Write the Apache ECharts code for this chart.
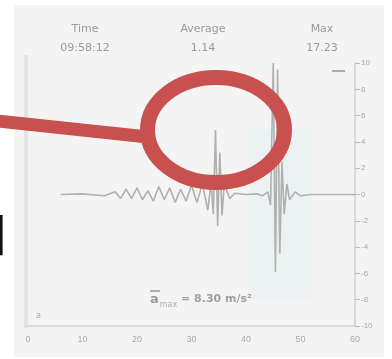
<!DOCTYPE html>
<html>
<head>
<meta charset="utf-8">
<script src="https://cdn.jsdelivr.net/npm/echarts@6/dist/echarts.min.js"></script>
<style>
  html, body { margin: 0; padding: 0; background: #fff; }
  #chart { width: 392px; height: 359px; }
</style>
</head>
<body>
<div id="chart"></div>
<script>
// ---- data ----
const waveT = [6, 10, 14, 16, 17, 18, 19, 20, 21, 22, 23, 24, 25, 26, 27, 28, 29, 30,
  31, 32, 33, 33.6, 34, 34.4, 34.8, 35.2, 35.6, 36, 37, 38, 40, 42, 43, 44, 44.5, 45, 45.4, 45.8,
  46.2, 46.6, 47, 47.5, 48, 49, 50, 52, 55, 58, 60];
const waveV = [0, 0.05, -0.1, 0.2, -0.3, 0.4, -0.3, 0.5, -0.4, 0.3, -0.5, 0.6, -0.4, 0.5, -0.6, 0.4,
  -0.5, 0.7, -0.6, 0.8, -1.2, 1.0, -1.5, 4.9, -2.4, 3.2, -1.6, 0.8, -0.3, 0.1, 0, 0.05, -0.1, 0.2,
  -0.8, 10, -5.9, 9.5, -4.5, 2.5, -1.5, 0.8, -0.4, 0.2, -0.1, 0, 0, 0, 0];
const xTicks = [0, 10, 20, 30, 40, 50, 60];
const statNames = ["Time", "Average", "Max"];
const statValues = ["09:58:12", "1.14", "17.23"];

const chart = echarts.init(document.getElementById("chart"), null, { renderer: "canvas" });

const statX = [85, 203, 322];
const statTexts = [];
statNames.forEach((n, i) => {
  statTexts.push({
    type: "text", left: statX[i] - 40, top: 20, z: 5,
    style: { text: n + "\n" + statValues[i], width: 80, align: "center", textAlign: "center",
      fill: "#9a9a9a", font: "11px 'DejaVu Sans'", lineHeight: 19 }
  });
});

chart.setOption({
  animation: false,
  grid: { left: 28, right: 37, top: 63, bottom: 33 },
  xAxis: {
    type: "value", min: 0, max: 60, interval: 10,
    axisLine: { show: true, onZero: false, lineStyle: { color: "#dcdcdc", width: 2 } },
    axisTick: { show: false },
    splitLine: { show: false },
    axisLabel: { color: "#a8a8a8", fontSize: 9, margin: 9,
      formatter: (v) => xTicks.includes(v) ? String(v) : "" }
  },
  yAxis: {
    type: "value", position: "right", min: -10, max: 10, interval: 2,
    axisLine: { show: true, onZero: false, lineStyle: { color: "#d0d0d0", width: 1.5 } },
    axisTick: { show: true, length: 5, lineStyle: { color: "#bbb" } },
    splitLine: { show: false },
    axisLabel: { color: "#a8a8a8", fontSize: 8, margin: 6 }
  },
  graphic: [
    { type: "rect", shape: { x: 14, y: 5, width: 370, height: 352 }, style: { fill: "#f4f4f4" }, z: -10 },
    { type: "rect", shape: { x: 24, y: 55, width: 4, height: 273 }, style: { fill: "#e4e4e4" }, z: -5 },
    ...statTexts,
    { type: "line", shape: { x1: 332, y1: 71, x2: 345, y2: 71 }, style: { stroke: "#aaa", lineWidth: 2 }, z: 5 },
    {
      type: "text", left: 150, top: 293, z: 5,
      style: {
        text: "{a|a}{s|max}{e| = 8.30 m/s²}",
        rich: {
          a: { fill: "#9a9a9a", font: "bold 13px 'DejaVu Sans'" },
          s: { fill: "#b0b0b0", font: "8px 'DejaVu Sans'", padding: [10, 0, 0, 1] },
          e: { fill: "#a0a0a0", font: "bold 11px 'DejaVu Sans'" }
        }
      }
    },
    { type: "line", shape: { x1: 150, y1: 291, x2: 160, y2: 291 }, style: { stroke: "#999", lineWidth: 1.5 }, z: 5 },
    { type: "text", left: 36, top: 312, z: 5, style: { text: "a", fill: "#aaa", font: "8px 'DejaVu Sans'" } },
    // annotation: red ellipse and pointer line
    { type: "line", shape: { x1: -2, y1: 121, x2: 148, y2: 137 },
      style: { stroke: "#c8504f", lineWidth: 13 }, z: 20 },
    { type: "ellipse", shape: { cx: 216, cy: 130, rx: 68.5, ry: 52.5 },
      style: { fill: "none", stroke: "#c8504f", lineWidth: 15 }, z: 21 },
    { type: "text", left: -34, top: 212, z: 20,
      style: { text: "H", fill: "#111", font: "56px 'DejaVu Sans'" } }
  ],
  series: [{
    type: "line",
    data: waveT.map((t, i) => [t, waveV[i]]),
    showSymbol: false,
    lineStyle: { color: "#b0b0b0", width: 1.6 },
    markArea: {
      silent: true,
      itemStyle: { color: "rgba(215,238,234,0.3)" },
      data: [[{ xAxis: 40.5, yAxis: 5 }, { xAxis: 52, yAxis: -8 }]]
    }
  }]
});
</script>
</body>
</html>
